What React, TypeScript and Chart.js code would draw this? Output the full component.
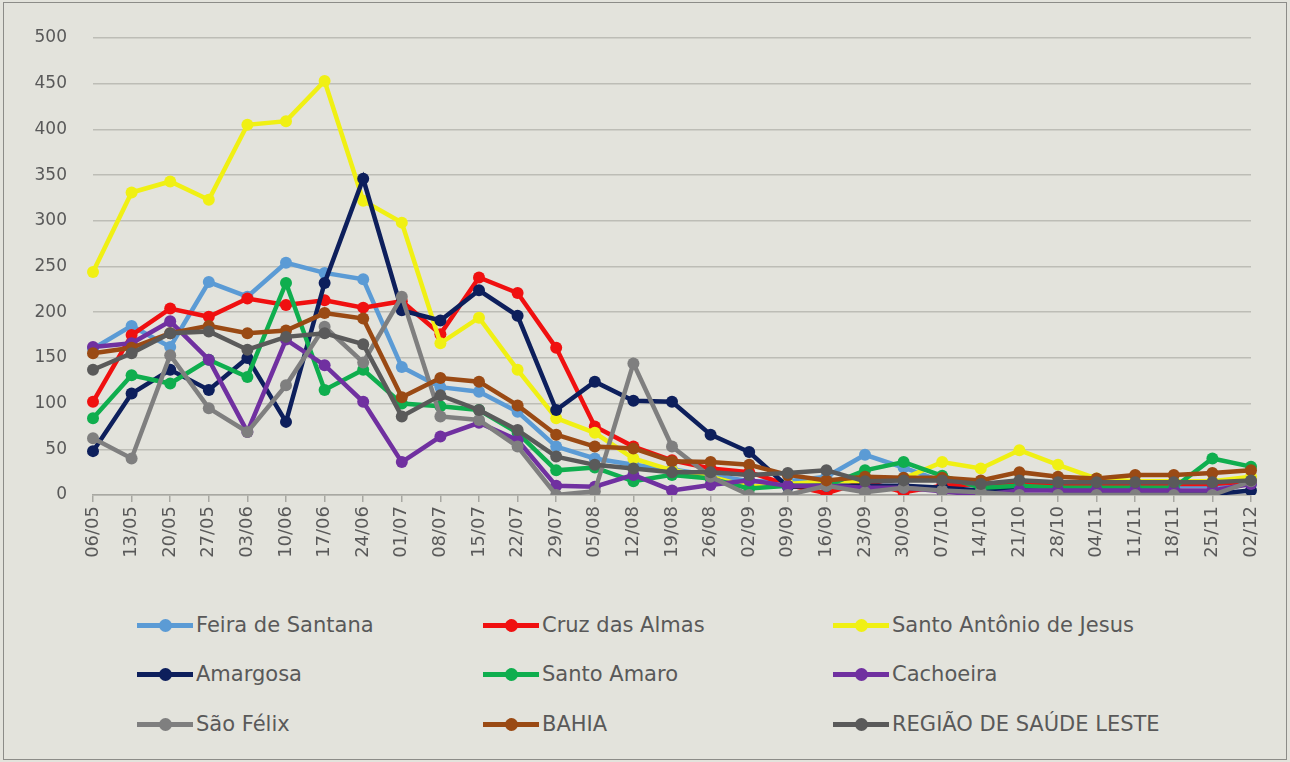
import React, { useEffect, useRef } from "react";
import { Chart, registerables } from "chart.js";

Chart.register(...registerables);

const categories = [
  "06/05", "13/05", "20/05", "27/05", "03/06", "10/06", "17/06", "24/06", "01/07", "08/07",
  "15/07", "22/07", "29/07", "05/08", "12/08", "19/08", "26/08", "02/09", "09/09", "16/09",
  "23/09", "30/09", "07/10", "14/10", "21/10", "28/10", "04/11", "11/11", "18/11", "25/11", "02/12",
];

const feiraDeSantana = [160, 185, 162, 233, 217, 254, 243, 236, 140, 118, 113, 91, 53, 40, 33, 28, 22, 15, 15, 20, 44, 30, 15, 10, 12, 10, 10, 10, 10, 10, 12];
const cruzDasAlmas = [102, 175, 204, 195, 215, 208, 213, 205, 212, 176, 238, 221, 161, 75, 53, 38, 29, 25, 11, 2, 15, 3, 10, 12, 12, 12, 12, 12, 12, 12, 15];
const santoAntonioDeJesus = [244, 331, 343, 323, 405, 409, 453, 322, 298, 166, 194, 137, 84, 68, 40, 27, 20, 9, 12, 15, 15, 18, 36, 29, 49, 33, 18, 15, 15, 15, 20];
const amargosa = [48, 111, 137, 115, 150, 80, 232, 346, 202, 191, 224, 196, 93, 124, 103, 102, 66, 47, 9, 10, 10, 10, 8, 5, 8, 5, 5, 5, 5, 1, 5];
const santoAmaro = [84, 131, 122, 148, 129, 232, 115, 137, 100, 97, 93, 68, 27, 30, 15, 22, 18, 7, 10, 10, 27, 36, 21, 8, 10, 8, 8, 8, 8, 40, 31];
const cachoeira = [162, 166, 190, 148, 69, 170, 142, 102, 36, 64, 79, 60, 10, 9, 22, 5, 11, 16, 10, 10, 8, 8, 4, 0, 5, 5, 5, 5, 5, 5, 12];
const saoFelix = [62, 40, 153, 95, 69, 120, 184, 145, 217, 86, 82, 53, 0, 4, 144, 53, 20, 0, 0, 10, 3, 8, 5, 3, 0, 0, 0, 0, 0, 0, 15];
const bahia = [155, 161, 177, 185, 177, 180, 199, 193, 107, 128, 124, 98, 66, 53, 51, 37, 36, 33, 22, 16, 20, 19, 19, 16, 25, 20, 18, 22, 22, 24, 27];
const regiaoSaudeLeste = [137, 155, 177, 179, 159, 173, 177, 165, 86, 109, 93, 71, 42, 33, 29, 25, 25, 22, 24, 27, 15, 16, 16, 12, 16, 14, 14, 14, 14, 14, 16];

const seriesNames = [
  "Feira de Santana", "Cruz das Almas", "Santo Antônio de Jesus",
  "Amargosa", "Santo Amaro", "Cachoeira",
  "São Félix", "BAHIA", "REGIÃO DE SAÚDE LESTE",
];
const seriesColors = [
  "#5b9bd5", "#f01010", "#f0f014",
  "#0d1f5c", "#0fae4e", "#7030a0",
  "#7f7f7f", "#9a4a14", "#5a5a5a",
];

const legendCols = [137, 483, 833];
const legendRows = [625, 674, 724];

const FONT = "'DejaVu Sans', sans-serif";

export default function App() {
  const ref = useRef<HTMLCanvasElement>(null);

  useEffect(() => {
    document.body.style.margin = "0";
    const series = [
      feiraDeSantana, cruzDasAlmas, santoAntonioDeJesus,
      amargosa, santoAmaro, cachoeira,
      saoFelix, bahia, regiaoSaudeLeste,
    ];
    const chart = new Chart(ref.current as HTMLCanvasElement, {
      type: "line",
      data: {
        labels: categories,
        datasets: series.map((d, i) => ({
          label: seriesNames[i],
          data: d,
          borderColor: seriesColors[i],
          backgroundColor: seriesColors[i],
          pointBackgroundColor: seriesColors[i],
          pointBorderColor: seriesColors[i],
          pointRadius: 6,
          pointBorderWidth: 0,
          borderWidth: 4.5,
          tension: 0,
          order: series.length - i,
        })),
      },
      options: {
        responsive: false,
        animation: false,
        layout: { padding: { top: 38, right: 39, left: 0, bottom: 0 } },
        plugins: { legend: { display: false }, tooltip: { enabled: false } },
        scales: {
          x: {
            grid: { display: true, drawOnChartArea: false, drawTicks: true, tickLength: 7, color: "#a8a8a2", lineWidth: 1.5 },
            border: { display: true, color: "#a8a8a2", width: 1.5 },
            ticks: {
              minRotation: 90,
              maxRotation: 90,
              autoSkip: false,
              color: "#595959",
              font: { family: FONT, size: 18 },
              padding: 4,
            },
            afterFit: (s: any) => { s.height = 105; },
          },
          y: {
            min: 0,
            max: 500,
            ticks: { stepSize: 50, color: "#595959", font: { family: FONT, size: 17 }, padding: 26 },
            grid: { color: "#bdbdb6", lineWidth: 1.5, drawTicks: false },
            border: { display: false },
            afterFit: (s: any) => { s.width = 93; },
          },
        },
      },
    });
    return () => chart.destroy();
  }, []);

  return (
    <div style={{ position: "relative", width: 1290, height: 762, background: "#e3e3dc", overflow: "hidden" }}>
      <div style={{ position: "absolute", left: 3, top: 2, right: 3, bottom: 2, border: "1px solid #8c8c88" }} />
      <canvas ref={ref} width={1290} height={600} style={{ position: "absolute", left: 0, top: 0, width: 1290, height: 600 }} />
      {seriesNames.map((name, i) => {
        const col = i % 3;
        const row = Math.floor(i / 3);
        return (
          <div
            key={name}
            style={{
              position: "absolute",
              left: legendCols[col],
              top: legendRows[row] - 15,
              height: 30,
              display: "flex",
              alignItems: "center",
              fontFamily: FONT,
              fontSize: 21,
              color: "#595959",
              whiteSpace: "nowrap",
            }}
          >
            <div style={{ position: "relative", width: 56, height: 13, marginRight: 3 }}>
              <div style={{ position: "absolute", left: 0, top: 4, width: 56, height: 5, background: seriesColors[i] }} />
              <div style={{ position: "absolute", left: 22, top: 0, width: 13, height: 13, borderRadius: 7, background: seriesColors[i] }} />
            </div>
            <span>{name}</span>
          </div>
        );
      })}
    </div>
  );
}
